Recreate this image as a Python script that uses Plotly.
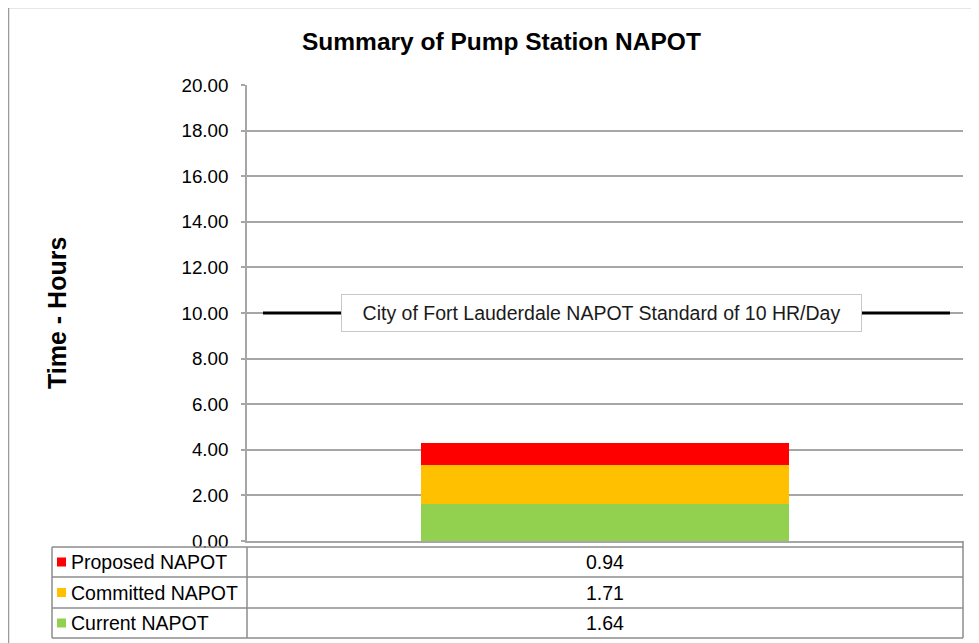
import plotly.graph_objects as go

# ---- data ----
series_names = ["Current NAPOT", "Committed NAPOT", "Proposed NAPOT"]
series_values = [1.64, 1.71, 0.94]
series_colors = ["#92D050", "#FFC000", "#FF0000"]
standard_value = 10
standard_label = "City of Fort Lauderdale NAPOT Standard of 10 HR/Day"
title_text = "Summary of Pump Station NAPOT"
yaxis_title = "Time - Hours"
tick_vals = [0, 2, 4, 6, 8, 10, 12, 14, 16, 18, 20]

W, H = 979, 643
OFF = 8  # page body margin
# plot area in screenshot pixel coordinates
L, R, T, B = 247, 963, 85, 541
FONT = "Liberation Sans, Arial, sans-serif"
GRID = "#A6A6A6"
TBL = "#8C8C8C"


def px(x):
    return (x - L) / (R - L)


def py(y):
    return (B - y) / (B - T)


fig = go.Figure()
for name, val, col in zip(series_names, series_values, series_colors):
    fig.add_trace(go.Bar(x=[0], y=[val], name=name, marker=dict(color=col, line=dict(width=0)),
                         width=0.514, showlegend=False, hoverinfo="y+name"))

shapes = []
annotations = []

# outer border
shapes.append(dict(type="rect", xref="paper", yref="paper", x0=px(8.5), x1=px(1000), y0=py(7.5), y1=py(700),
                   line=dict(color="#9A9A9A", width=1.5), fillcolor="rgba(0,0,0,0)", layer="below"))

# standard line
shapes.append(dict(type="line", xref="paper", yref="y", x0=px(263), x1=px(950), y0=standard_value,
                   y1=standard_value, line=dict(color="black", width=3)))
annotations.append(dict(xref="paper", yref="y", x=px(601.5), y=standard_value, text=standard_label,
                        showarrow=False, bgcolor="white", bordercolor="#C8C8C8", borderwidth=1,
                        borderpad=7, font=dict(family=FONT, size=19.5, color="#1a1a1a"),
                        width=505, align="center"))

# data table
row_edges = [547, 577, 608, 638]
tbl_left = 52
for ry in row_edges:
    shapes.append(dict(type="line", xref="paper", yref="paper", x0=px(tbl_left), x1=px(R), y0=py(ry), y1=py(ry),
                       line=dict(color=TBL, width=1.5)))
for cx in [tbl_left, L, R]:
    shapes.append(dict(type="line", xref="paper", yref="paper", x0=px(cx), x1=px(cx), y0=py(row_edges[0]),
                       y1=py(row_edges[-1]), line=dict(color=TBL, width=1.5)))
shapes.append(dict(type="line", xref="paper", yref="paper", x0=px(R), x1=px(R), y0=py(B), y1=py(547),
                   line=dict(color=TBL, width=1.5)))

rows = list(zip(series_names, series_values, series_colors))[::-1]
for i, (name, val, col) in enumerate(rows):
    yc = (row_edges[i] + row_edges[i + 1]) / 2
    shapes.append(dict(type="rect", xref="paper", yref="paper", x0=px(57), x1=px(66), y0=py(yc - 4.5),
                       y1=py(yc + 4.5), fillcolor=col, line=dict(width=0)))
    annotations.append(dict(xref="paper", yref="paper", x=px(69), y=py(yc), text=name, showarrow=False,
                            xanchor="left", yanchor="middle", font=dict(family=FONT, size=19.5, color="black")))
    annotations.append(dict(xref="paper", yref="paper", x=px(605), y=py(yc), text=f"{val:.2f}", showarrow=False,
                            xanchor="center", yanchor="middle", font=dict(family=FONT, size=19.5, color="black")))

# titles
annotations.append(dict(xref="paper", yref="paper", x=px(501), y=py(42), text=f"<b>{title_text}</b>",
                        showarrow=False, xanchor="center", yanchor="middle",
                        font=dict(family=FONT, size=24.5, color="black")))
annotations.append(dict(xref="paper", yref="paper", x=px(57), y=py(313), text=f"<b>{yaxis_title}</b>",
                        showarrow=False, textangle=-90, xanchor="center", yanchor="middle",
                        font=dict(family=FONT, size=25, color="black")))

fig.update_layout(
    width=W, height=H,
    margin=dict(l=L - OFF, r=W - (R - OFF), t=T - OFF, b=H - (B - OFF)),
    paper_bgcolor="white", plot_bgcolor="white",
    barmode="stack", bargap=0,
    shapes=shapes, annotations=annotations,
    showlegend=False,
    xaxis=dict(range=[-0.5, 0.5], showticklabels=False, showgrid=False, zeroline=False,
               showline=True, linecolor=GRID, linewidth=1.5, ticks=""),
    yaxis=dict(range=[0, 20], tickvals=tick_vals, tickformat=".2f", showgrid=True, gridcolor=GRID,
               gridwidth=1.5, zeroline=False, showline=True, linecolor=GRID, linewidth=1.5,
               ticks="outside", ticklen=4, tickcolor=GRID, tickwidth=1.5,
               tickfont=dict(family=FONT, size=18.8, color="black"), ticklabelstandoff=9),
)

fig.write_html("out.html")
